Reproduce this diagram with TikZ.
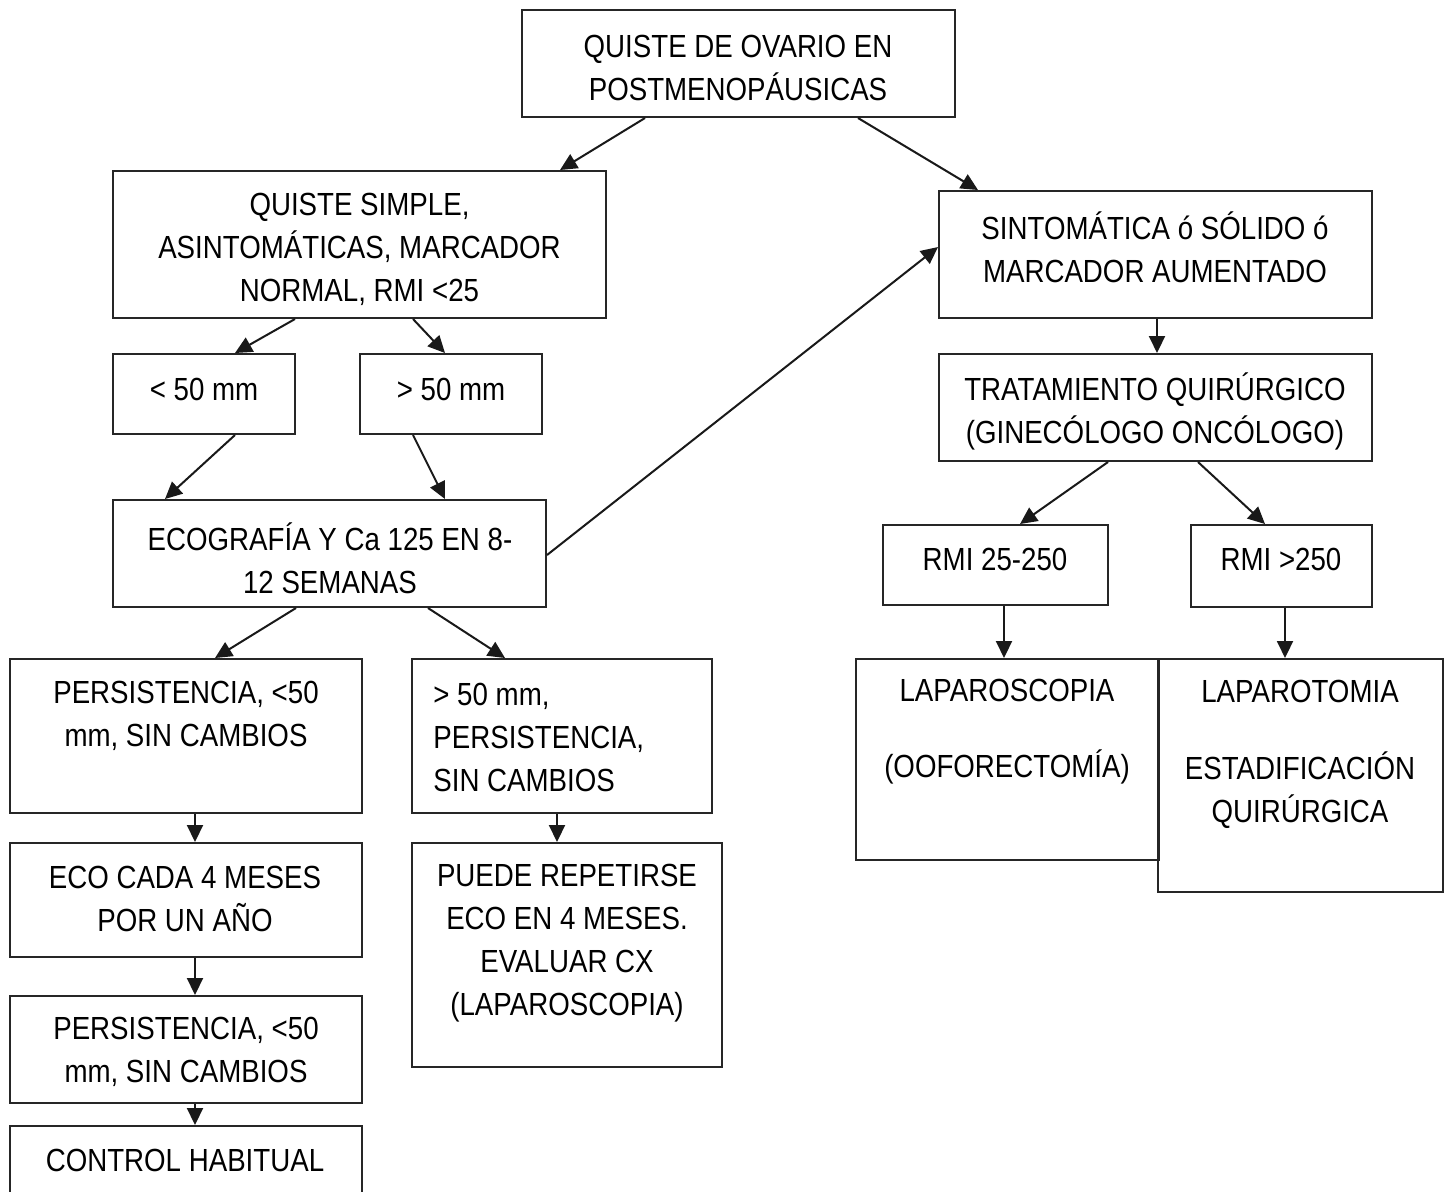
\documentclass[tikz,border=0pt]{standalone}
\usepackage{fontspec}
\setmainfont{Liberation Sans}[FakeStretch=0.865]
\usetikzlibrary{arrows.meta,fit}
\begin{document}
\begin{tikzpicture}[x=0.5pt,y=-0.5pt,
  box/.style={draw=black!85, line width=1pt, inner sep=0pt},
  txt/.style={font=\fontsize{16}{21.5}\selectfont, align=center, inner sep=0pt},
  arr/.style={draw=black!90, line width=1pt, -{Triangle[length=8.5pt,width=8pt]}}]
\clip (0,0) rectangle (1449,1191);
\fill[white] (0,0) rectangle (1449,1191);

% boxes
\node[box, fit={(522,10)(955,117)}] (top) {};
\node[box, fit={(113,171)(606,318)}] (simple) {};
\node[box, fit={(939,191)(1372,318)}] (sint) {};
\node[box, fit={(113,354)(295,434)}] (lt50) {};
\node[box, fit={(360,354)(542,434)}] (gt50) {};
\node[box, fit={(113,500)(546,607)}] (ecog) {};
\node[box, fit={(939,354)(1372,461)}] (trat) {};
\node[box, fit={(883,525)(1108,605)}] (rmi1) {};
\node[box, fit={(1191,525)(1372,607)}] (rmi2) {};
\node[box, fit={(856,659)(1159,860)}] (lapsc) {};
\node[box, fit={(1158,659)(1443,892)}] (lapto) {};
\node[box, fit={(10,659)(362,813)}] (pers1) {};
\node[box, fit={(412,659)(712,813)}] (gt50p) {};
\node[box, fit={(10,843)(362,957)}] (eco4) {};
\node[box, fit={(412,843)(722,1067)}] (puede) {};
\node[box, fit={(10,996)(362,1103)}] (pers2) {};
\node[box, fit={(10,1126)(362,1210)}] (ctrl) {};

% texts
\node[txt] (ttop) at (738,67.5) {QUISTE DE OVARIO EN\\POSTMENOPÁUSICAS};
\node[txt] (tsimple) at (359.5,249.5) {QUISTE SIMPLE,\\ASINTOMÁTICAS, MARCADOR\\NORMAL, RMI <25};
\node[txt] (tsint) at (1155,247) {SINTOMÁTICA ó SÓLIDO ó\\MARCADOR AUMENTADO};
\node[txt] (tlt50) at (204,389.5) {< 50 mm};
\node[txt] (tgt50) at (451,389.5) {> 50 mm};
\node[txt] (tecog) at (330,558) {ECOGRAFÍA Y Ca 125 EN 8-\\12 SEMANAS};
\node[txt] (ttrat) at (1155,411) {TRATAMIENTO QUIRÚRGICO\\(GINECÓLOGO ONCÓLOGO)};
\node[txt] (trmi1) at (995,559.5) {RMI 25-250};
\node[txt] (trmi2) at (1281,559.5) {RMI >250};
\node[txt] (tlapsc) at (1007,732) {LAPAROSCOPIA\\[16.5pt](OOFORECTOMÍA)};
\node[txt] (tlapto) at (1300,754) {LAPAROTOMIA\\[17pt]ESTADIFICACIÓN\\QUIRÚRGICA};
\node[txt] (tpers1) at (186,716) {PERSISTENCIA, <50\\mm, SIN CAMBIOS};
\node[txt, align=left, anchor=west] (tgt50p) at (433,737.5) {> 50 mm,\\PERSISTENCIA,\\SIN CAMBIOS};
\node[txt] (teco4) at (185,899) {ECO CADA 4 MESES\\POR UN AÑO};
\node[txt] (tpuede) at (567,943) {PUEDE REPETIRSE\\ECO EN 4 MESES.\\EVALUAR CX\\(LAPAROSCOPIA)};
\node[txt] (tpers2) at (186,1052) {PERSISTENCIA, <50\\mm, SIN CAMBIOS};
\node[txt] (tctrl) at (185,1160.5) {CONTROL HABITUAL};

% connectors
\draw[arr] (top.south -| 645,0) -- (simple.north -| 560,0);
\draw[arr] (top.south -| 858,0) -- (sint.north -| 978,0);
\draw[arr] (simple.south -| 295,0) -- (lt50.north -| 235,0);
\draw[arr] (simple.south -| 413,0) -- (gt50.north -| 445,0);
\draw[arr] (lt50.south -| 235,0) -- (ecog.north -| 165,0);
\draw[arr] (gt50.south -| 413,0) -- (ecog.north -| 445,0);
\draw[arr] (ecog.east |- 0,555) -- (sint.west |- 0,247);
\draw[arr] (sint.south -| 1157,0) -- (trat.north -| 1157,0);
\draw[arr] (trat.south -| 1108,0) -- (rmi1.north -| 1020,0);
\draw[arr] (trat.south -| 1198,0) -- (rmi2.north -| 1265,0);
\draw[arr] (rmi1.south -| 1004,0) -- (lapsc.north -| 1004,0);
\draw[arr] (rmi2.south -| 1285,0) -- (lapto.north -| 1285,0);
\draw[arr] (ecog.south -| 296,0) -- (pers1.north -| 215,0);
\draw[arr] (ecog.south -| 428,0) -- (gt50p.north -| 505,0);
\draw[arr] (pers1.south -| 195,0) -- (eco4.north -| 195,0);
\draw[arr] (gt50p.south -| 557,0) -- (puede.north -| 557,0);
\draw[arr] (eco4.south -| 195,0) -- (pers2.north -| 195,0);
\draw[arr] (pers2.south -| 195,0) -- (ctrl.north -| 195,0);
\end{tikzpicture}
\end{document}
